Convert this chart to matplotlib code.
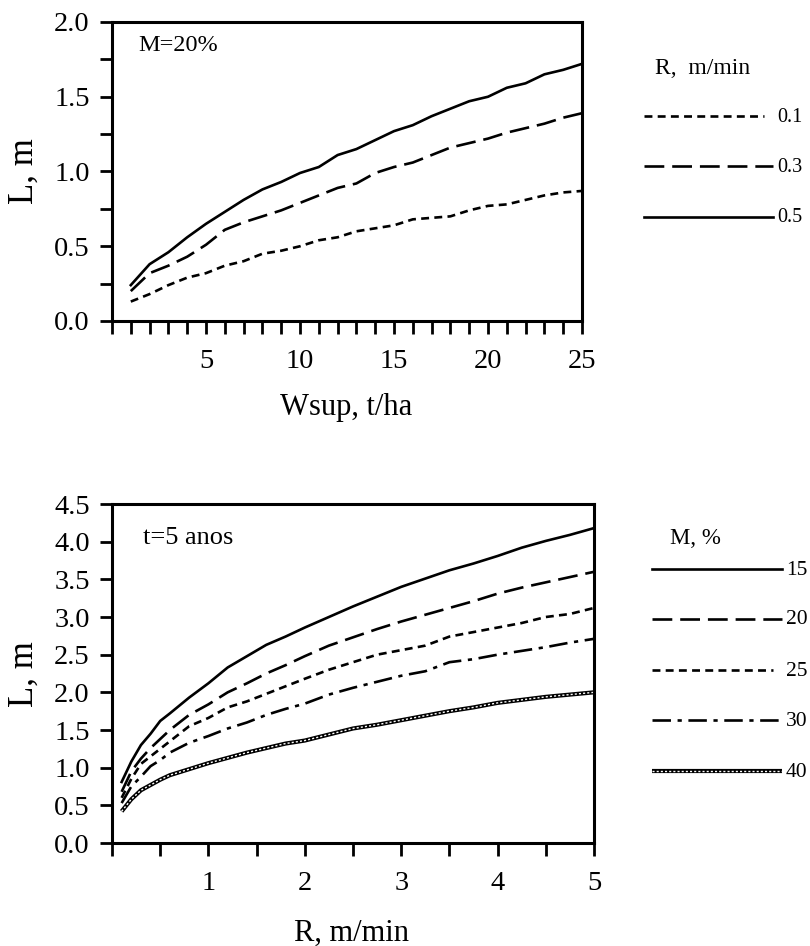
import numpy as np
import matplotlib
matplotlib.use("Agg")
from matplotlib import pyplot as plt
from matplotlib.lines import Line2D
from matplotlib.ticker import MultipleLocator, FuncFormatter

plt.rcParams['font.family'] = ['Liberation Serif', 'DejaVu Serif']

# --- upper panel: L vs Wsup for three spread rates (M = 20%)
wsup = list(range(1, 26))
r_labels = ["0.1", "0.3", "0.5"]
L_r01 = [0.13, 0.18, 0.24, 0.29, 0.32, 0.37, 0.40, 0.45, 0.47, 0.50, 0.54, 0.56, 0.60,
         0.62, 0.64, 0.68, 0.69, 0.70, 0.74, 0.77, 0.78, 0.81, 0.84, 0.86, 0.87]
L_r03 = [0.20, 0.32, 0.37, 0.43, 0.51, 0.61, 0.66, 0.70, 0.74, 0.79, 0.84, 0.89, 0.92,
         0.99, 1.03, 1.06, 1.11, 1.16, 1.19, 1.22, 1.26, 1.29, 1.32, 1.36, 1.39]
L_r05 = [0.24, 0.38, 0.46, 0.56, 0.65, 0.73, 0.81, 0.88, 0.93, 0.99, 1.03, 1.11, 1.15,
         1.21, 1.27, 1.31, 1.37, 1.42, 1.47, 1.50, 1.56, 1.59, 1.65, 1.68, 1.72]

# --- lower panel: L vs R for five moisture contents (t = 5 anos)
R = [0.1, 0.2, 0.3, 0.4, 0.5, 0.6, 0.8, 1.0, 1.2, 1.4, 1.6, 1.8, 2.0, 2.25, 2.5,
     2.75, 3.0, 3.25, 3.5, 3.75, 4.0, 4.25, 4.5, 4.75, 5.0]
m_labels = ["15", "20", "25", "30", "40"]
L_m15 = [0.81, 1.08, 1.30, 1.45, 1.62, 1.72, 1.93, 2.12, 2.33, 2.48, 2.63, 2.74, 2.86,
         3.00, 3.14, 3.27, 3.40, 3.51, 3.62, 3.71, 3.81, 3.92, 4.01, 4.09, 4.18]
L_m20 = [0.68, 0.95, 1.12, 1.26, 1.38, 1.50, 1.70, 1.84, 2.00, 2.12, 2.25, 2.36, 2.48,
         2.62, 2.73, 2.84, 2.94, 3.03, 3.12, 3.21, 3.31, 3.39, 3.46, 3.53, 3.60]
L_m25 = [0.60, 0.85, 1.05, 1.15, 1.25, 1.35, 1.55, 1.66, 1.80, 1.88, 1.98, 2.08, 2.18,
         2.30, 2.40, 2.50, 2.56, 2.62, 2.74, 2.80, 2.86, 2.92, 3.00, 3.04, 3.12]
L_m30 = [0.53, 0.75, 0.88, 1.02, 1.10, 1.20, 1.33, 1.42, 1.52, 1.60, 1.70, 1.78, 1.85,
         1.97, 2.06, 2.14, 2.22, 2.28, 2.40, 2.44, 2.50, 2.55, 2.60, 2.66, 2.71]
L_m40 = [0.42, 0.58, 0.70, 0.77, 0.84, 0.90, 0.98, 1.06, 1.13, 1.20, 1.26, 1.32, 1.36,
         1.44, 1.52, 1.57, 1.63, 1.69, 1.75, 1.80, 1.86, 1.90, 1.94, 1.97, 2.00]

W, H = 810, 946
fig = plt.figure(figsize=(W / 100, H / 100), dpi=100)

LW = 1.9
short_dash = (0, (3, 2))
long_dash = (0, (7.5, 3))
dash_dot = (0, (7, 2.5, 1.6, 2.5))


def px(x, y):
    return x / W, 1 - y / H


def style_axes(ax):
    for s in ax.spines.values():
        s.set_linewidth(2.2)
    ax.tick_params(which='both', direction='out', length=9, width=2,
                   labelsize=20.5)
    ax.tick_params(axis='x', pad=11)
    ax.tick_params(axis='y', pad=7)


def chain_line(ax, x, y, **kw):
    # thick black line with a white dotted core -> chain of small boxes
    ax.plot(x, y, color='black', lw=3.0, solid_capstyle='butt', **kw)
    ax.plot(x, y, color='white', lw=1.0, linestyle=(0, (1.5, 1.5)), **kw)


# upper panel
ax1 = fig.add_axes([112 / W, 1 - 321 / H, (582 - 112) / W, (321 - 22) / H])
ax1.plot(wsup, L_r01, color='black', lw=LW, linestyle=short_dash)
ax1.plot(wsup, L_r03, color='black', lw=LW, linestyle=long_dash)
ax1.plot(wsup, L_r05, color='black', lw=LW)
ax1.set_xlim(0, 25)
ax1.set_ylim(0, 2.0)
ax1.xaxis.set_major_locator(MultipleLocator(5))
ax1.xaxis.set_minor_locator(MultipleLocator(1))
ax1.xaxis.set_major_formatter(FuncFormatter(lambda v, p: '' if v == 0 else '%d' % v))
ax1.yaxis.set_major_locator(MultipleLocator(0.5))
ax1.yaxis.set_minor_locator(MultipleLocator(0.25))
ax1.yaxis.set_major_formatter(FuncFormatter(lambda v, p: '%.1f' % v))
style_axes(ax1)
ax1.text(0.055, 0.92, "M=20%", transform=ax1.transAxes, fontsize=17.5,
         ha='left', va='center')

# lower panel
ax2 = fig.add_axes([112 / W, 1 - 843 / H, (594 - 112) / W, (843 - 504) / H])
ax2.plot(R, L_m15, color='black', lw=LW)
ax2.plot(R, L_m20, color='black', lw=LW, linestyle=long_dash)
ax2.plot(R, L_m25, color='black', lw=LW, linestyle=short_dash)
ax2.plot(R, L_m30, color='black', lw=LW, linestyle=dash_dot)
chain_line(ax2, R, L_m40)
ax2.set_xlim(0, 5)
ax2.set_ylim(0, 4.5)
ax2.xaxis.set_major_locator(MultipleLocator(1))
ax2.xaxis.set_minor_locator(MultipleLocator(0.5))
ax2.xaxis.set_major_formatter(FuncFormatter(lambda v, p: '' if v == 0 else '%d' % v))
ax2.yaxis.set_major_locator(MultipleLocator(0.5))
ax2.yaxis.set_major_formatter(FuncFormatter(lambda v, p: '%.1f' % v))
style_axes(ax2)
ax2.text(0.065, 0.9, "t=5 anos", transform=ax2.transAxes, fontsize=19,
         ha='left', va='center')

# axis labels
fig.text(*px(346, 408), "Wsup, t/ha", fontsize=22, ha='center', va='center')
fig.text(*px(352, 933), "R, m/min", fontsize=22, ha='center', va='center')
fig.text(*px(24, 171), "L, m", fontsize=25, rotation=90, ha='center', va='center')
fig.text(*px(24, 674), "L, m", fontsize=25, rotation=90, ha='center', va='center')


# key for the upper panel
def key_line(x0, x1, y, **kw):
    (a, b), (c, d) = px(x0, y), px(x1, y)
    fig.add_artist(Line2D([a, c], [b, d], transform=fig.transFigure,
                          color='black', **kw))


fig.text(*px(703, 68), "R,  m/min", fontsize=17, ha='center', va='center')
top_keys = [(116, short_dash, 764), (166, long_dash, 773), (217, '-', 773)]
for lab, (y, ls, x1) in zip(r_labels, top_keys):
    key_line(644, x1, y, lw=LW, linestyle=ls)
    fig.text(*px(777, y + 1), lab, fontsize=14.5, ha='left', va='center')

# key for the lower panel
fig.text(*px(695, 539), "M, %", fontsize=16.5, ha='center', va='center')
bot_keys = [(569, '-', 782), (619, long_dash, 782), (670, short_dash, 773),
            (720, dash_dot, 780)]
for lab, (y, ls, x1) in zip(m_labels[:4], bot_keys):
    key_line(652, x1, y, lw=LW, linestyle=ls)
for lab, y in zip(m_labels, [569, 619, 670, 720, 771]):
    fig.text(*px(786, y + 1), lab, fontsize=15.5, ha='left', va='center')
key_line(652, 782, 771, lw=3.0, solid_capstyle='butt')
(a, b), (c, d) = px(652, 771), px(782, 771)
fig.add_artist(Line2D([a, c], [b, d], transform=fig.transFigure, color='white',
                      lw=1.0, linestyle=(0, (1.5, 1.5))))

fig.savefig("out.png", dpi=100)
